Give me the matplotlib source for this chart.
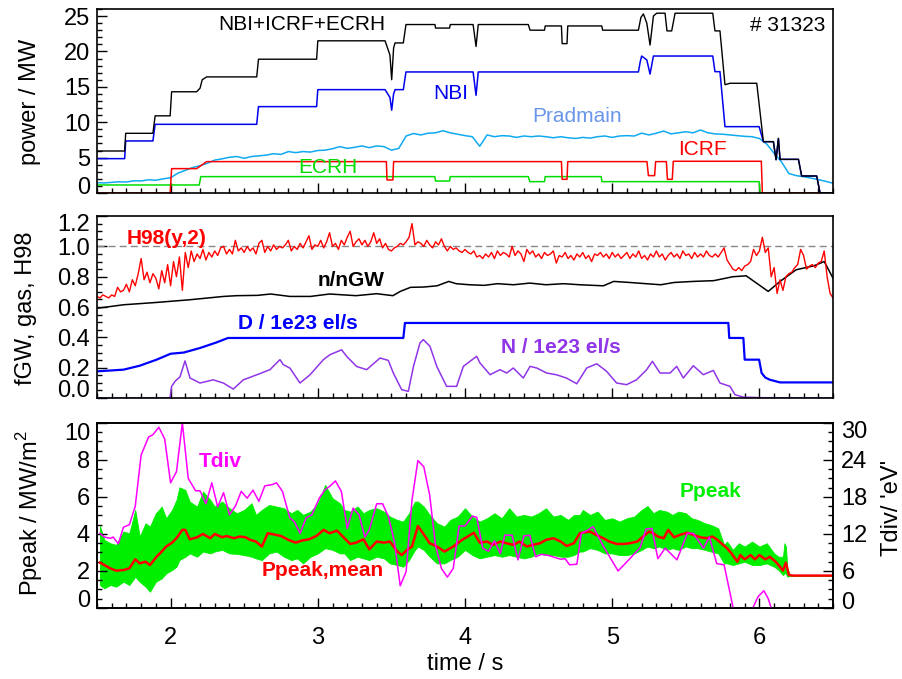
import matplotlib

matplotlib.use("Agg")
import matplotlib.pyplot as plt
import numpy as np
from matplotlib.ticker import MultipleLocator
from matplotlib.transforms import ScaledTranslation

plt.rcParams["font.family"] = ["Liberation Sans", "DejaVu Sans"]
plt.rcParams["mathtext.fontset"] = "custom"
plt.rcParams["mathtext.rm"] = "Liberation Sans"

# ---------------- panel 1: heating / radiated power (MW) ----------------
tot_t = [1.50, 1.688, 1.695, 1.880, 1.895, 1.997, 2.007, 2.177, 2.20, 2.215, 2.245, 2.585,
         2.597, 2.992, 3.0, 3.457, 3.49, 3.502, 3.515, 3.525, 3.581, 3.599, 3.796, 3.80,
         3.895, 3.90, 4.055, 4.075, 4.09, 4.43, 4.442, 4.54, 4.545, 4.655, 4.66, 4.693,
         4.698, 4.929, 4.935, 5.178, 5.195, 5.212, 5.235, 5.257, 5.28, 5.302, 5.359, 5.372,
         5.404, 5.427, 5.683, 5.698, 5.732, 5.766, 5.80, 5.982, 6.027, 6.095, 6.113, 6.129,
         6.14, 6.265, 6.287, 6.389, 6.412, 6.50]
tot_p = [5.93, 5.93, 8.43, 8.43, 10.9, 10.9, 14.3, 14.3, 14.8, 16.0, 16.4, 16.4,
         18.9, 18.9, 21.5, 21.5, 19.5, 16.0, 20.5, 21.2, 21.2, 23.8, 23.8, 23.3,
         23.3, 23.8, 23.8, 20.7, 23.8, 23.8, 23.0, 23.0, 23.6, 23.6, 21.1, 21.1,
         23.6, 23.6, 23.0, 23.0, 24.8, 25.3, 24.0, 20.9, 25.0, 25.4, 25.4, 22.9,
         22.9, 25.4, 25.4, 22.9, 22.9, 15.3, 15.5, 15.5, 7.25, 7.25, 4.7, 7.7,
         4.75, 4.75, 2.4, 2.4, 0.0, 0.0]

nbi_t = [1.50, 1.688, 1.695, 1.880, 1.895, 2.585, 2.597, 2.992, 3.0, 3.457, 3.49, 3.502,
         3.515, 3.525, 3.581, 3.599, 4.055, 4.075, 4.09, 5.178, 5.19, 5.20, 5.235, 5.257,
         5.28, 5.683, 5.698, 5.732, 5.766, 5.998, 6.027, 6.095, 6.113, 6.129, 6.14, 6.265,
         6.287, 6.389, 6.412, 6.50]
nbi_p = [4.85, 4.85, 7.35, 7.35, 9.7, 9.7, 12.2, 12.2, 14.6, 14.6, 13.5, 11.7,
         14.0, 14.6, 14.6, 17.1, 17.1, 13.8, 17.1, 17.1, 18.5, 19.35, 18.8, 16.8,
         19.35, 19.35, 17.14, 17.14, 9.37, 9.37, 7.25, 7.25, 4.7, 7.7, 4.75, 4.75,
         2.4, 2.4, 0.0, 0.0]

icrf_t = [1.50, 1.997, 2.007, 2.177, 2.245, 3.466, 3.470, 3.510, 3.515, 4.655, 4.660, 4.693,
          4.698, 5.236, 5.246, 5.288, 5.295, 5.368, 5.375, 5.408, 5.415, 6.013, 6.020, 6.50]
icrf_p = [0.0, 0.0, 3.44, 3.44, 4.43, 4.43, 1.84, 1.84, 4.43, 4.43, 1.93, 1.93,
          4.43, 4.43, 2.45, 2.45, 4.43, 4.43, 1.93, 1.93, 4.48, 4.48, 0.0, 0.0]

ecrh_t = [1.50, 2.195, 2.205, 3.795, 3.80, 3.895, 3.90, 4.43, 4.44, 4.54, 4.545, 4.925,
          4.93, 5.998, 6.005, 6.50]
ecrh_p = [1.13, 1.13, 2.31, 2.31, 1.69, 1.69, 2.31, 2.31, 1.6, 1.6, 2.31, 2.31,
          1.6, 1.6, 0.0, 0.0]

# Pradmain sampled every 50 ms from 1.5 s to 6.5 s
prad = [1.46, 1.42, 1.50, 1.58, 1.55, 1.72, 1.70, 1.86, 1.80, 2.00,
        2.15, 2.80, 3.20, 3.60, 3.85, 4.20, 4.65, 4.82, 5.05, 5.15,
        4.90, 5.15, 5.25, 5.35, 5.55, 5.45, 5.85, 5.70, 5.85, 5.78,
        6.00, 6.05, 6.25, 6.55, 6.30, 6.45, 6.65, 6.40, 6.65, 6.55,
        6.05, 6.30, 8.05, 8.40, 8.20, 8.45, 8.50, 8.80, 8.50, 8.30,
        8.10, 7.95, 6.60, 8.20, 7.95, 8.10, 8.05, 7.85, 8.05, 7.95,
        8.05, 7.95, 7.80, 7.95, 7.80, 7.70, 7.85, 7.75, 7.95, 8.05,
        7.85, 8.05, 8.10, 8.05, 8.45, 8.20, 8.45, 8.75, 8.35, 8.50,
        8.65, 8.50, 8.90, 8.50, 8.35, 8.30, 8.20, 8.10, 8.00, 7.95,
        7.70, 6.90, 5.60, 4.40, 2.75, 2.45, 2.30, 2.10, 1.90, 1.65,
        1.37]

# ---------------- panel 2: H98, Greenwald fraction, gas puffs ----------------
# H98(y,2) sampled every 20 ms from 1.5 s to 6.5 s
h98 = [0.67, 0.66, 0.68, 0.67, 0.66, 0.68, 0.67, 0.73, 0.70, 0.71,
       0.75, 0.70, 0.78, 0.74, 0.82, 0.92, 0.78, 0.83, 0.76, 0.82,
       0.79, 0.72, 0.84, 0.76, 0.88, 0.74, 0.90, 0.80, 0.93, 0.71,
       0.96, 0.86, 0.97, 0.90, 0.95, 0.92, 0.98, 0.91, 0.96, 0.93,
       0.97, 0.94, 0.99, 1.00, 0.95, 0.98, 0.95, 1.04, 0.97, 0.99,
       0.96, 1.00, 0.97, 0.99, 0.95, 1.02, 1.04, 0.96, 1.00, 0.97,
       1.01, 0.98, 1.00, 0.99, 1.01, 1.04, 0.97, 1.00, 0.98, 1.02,
       0.99, 1.03, 1.07, 0.98, 1.01, 1.00, 1.04, 0.99, 1.03, 1.09,
       1.00, 1.02, 0.98, 1.04, 1.01, 1.06, 1.10, 1.00, 1.03, 1.05,
       1.01, 1.04, 1.00, 1.03, 1.09, 1.02, 1.05, 0.99, 1.02, 0.98,
       0.97, 0.99, 1.00, 1.02, 1.01, 1.03, 1.06, 1.15, 1.01, 1.03,
       1.02, 1.00, 1.04, 1.01, 0.99, 1.03, 1.01, 1.05, 1.00, 0.97,
       1.00, 0.98, 0.99, 0.97, 0.96, 0.98, 0.96, 0.95, 0.97, 0.93,
       0.94, 0.92, 0.95, 0.93, 0.96, 0.92, 0.97, 0.94, 0.96, 0.95,
       0.93, 1.00, 0.94, 0.97, 0.95, 0.90, 0.98, 0.95, 0.97, 0.93,
       0.95, 0.92, 0.96, 0.94, 0.95, 0.97, 0.89, 0.94, 0.93, 0.96,
       0.92, 0.94, 0.91, 0.95, 0.93, 0.96, 0.92, 0.94, 0.90, 0.95,
       0.94, 0.96, 0.93, 0.95, 0.92, 0.96, 0.93, 0.95, 0.92, 0.94,
       0.96, 0.92, 0.95, 0.93, 0.97, 0.92, 0.94, 0.91, 0.95, 0.93,
       0.97, 0.93, 0.95, 0.91, 0.94, 0.96, 0.93, 0.95, 0.92, 0.97,
       0.94, 0.95, 0.92, 0.96, 0.93, 0.95, 0.93, 0.97, 0.94, 0.93,
       0.95, 0.93, 0.96, 0.99, 0.91, 0.88, 0.85, 0.84, 0.86, 0.84,
       0.87, 0.88, 0.90, 0.98, 0.94, 0.97, 1.06, 0.96, 0.99, 0.80,
       0.86, 0.69, 0.78, 0.71, 0.80, 0.82, 0.83, 0.86, 0.88, 0.98,
       0.94, 0.85, 0.87, 0.88, 0.86, 0.89, 0.90, 0.97, 0.80, 0.69,
       0.66]

ngw_t = [1.51, 1.68, 1.90, 2.13, 2.36, 2.45, 2.59, 2.68, 2.81, 2.95, 3.08, 3.26, 3.40,
         3.51, 3.56, 3.63, 3.72, 3.81, 3.89, 3.94, 4.03, 4.13, 4.22, 4.33, 4.44, 4.55,
         4.67, 4.78, 4.94, 5.01, 5.12, 5.23, 5.33, 5.42, 5.55, 5.69, 5.82, 5.91, 5.98,
         6.06, 6.14, 6.25, 6.37, 6.44, 6.47, 6.50]
ngw = [0.593, 0.615, 0.630, 0.648, 0.670, 0.675, 0.677, 0.686, 0.670, 0.670, 0.686, 0.675,
       0.688, 0.675, 0.703, 0.730, 0.732, 0.740, 0.769, 0.754, 0.747, 0.743, 0.754, 0.747,
       0.758, 0.747, 0.754, 0.747, 0.740, 0.769, 0.762, 0.754, 0.747, 0.762, 0.769, 0.774,
       0.800, 0.806, 0.758, 0.703, 0.769, 0.846, 0.872, 0.900, 0.846, 0.790]

gasd_t = [1.50, 1.68, 1.79, 1.905, 2.00, 2.09, 2.20, 2.31, 2.39, 3.581, 3.592, 5.789,
          5.795, 5.891, 5.90, 5.998, 6.015, 6.04, 6.07, 6.14, 6.50]
gasd = [0.176, 0.187, 0.213, 0.253, 0.292, 0.300, 0.330, 0.366, 0.396, 0.396, 0.495, 0.495,
        0.396, 0.396, 0.253, 0.253, 0.165, 0.135, 0.121, 0.103, 0.103]

gasn_t = [1.50, 1.996, 2.007, 2.03, 2.064, 2.098, 2.132, 2.20, 2.29, 2.358, 2.426, 2.494,
          2.585, 2.675, 2.743, 2.766, 2.811, 2.879, 2.947, 3.038, 3.083, 3.162, 3.196,
          3.264, 3.332, 3.423, 3.479, 3.513, 3.570, 3.615, 3.65, 3.694, 3.717, 3.762,
          3.808, 3.875, 3.943, 3.989, 4.079, 4.102, 4.17, 4.238, 4.283, 4.328, 4.396,
          4.442, 4.487, 4.555, 4.623, 4.691, 4.759, 4.827, 4.895, 4.962, 5.03, 5.098,
          5.166, 5.234, 5.273, 5.325, 5.393, 5.438, 5.483, 5.551, 5.619, 5.687, 5.732,
          5.80, 5.834, 5.891, 6.027, 6.50]
gasn = [0.0, 0.0, 0.077, 0.110, 0.140, 0.245, 0.132, 0.099, 0.120, 0.099, 0.059, 0.120,
        0.153, 0.187, 0.253, 0.220, 0.197, 0.099, 0.153, 0.253, 0.286, 0.318, 0.275,
        0.208, 0.187, 0.264, 0.248, 0.165, 0.055, 0.044, 0.209, 0.363, 0.385, 0.341,
        0.209, 0.077, 0.077, 0.209, 0.275, 0.231, 0.154, 0.187, 0.165, 0.198, 0.132,
        0.209, 0.198, 0.165, 0.153, 0.131, 0.094, 0.198, 0.226, 0.176, 0.099, 0.088,
        0.121, 0.187, 0.242, 0.165, 0.165, 0.209, 0.132, 0.213, 0.154, 0.182, 0.099,
        0.077, 0.022, 0.006, 0.002, 0.0]

# ---------------- panel 3: divertor peak power and temperature ----------------
pk_t = [1.52, 1.55, 1.59, 1.63, 1.68, 1.72, 1.76, 1.79, 1.83, 1.86, 1.90, 1.94, 1.97,
        2.01, 2.04, 2.06, 2.10, 2.13, 2.18, 2.22, 2.27, 2.30, 2.35, 2.40, 2.45, 2.50,
        2.55, 2.58, 2.62, 2.67, 2.72, 2.77, 2.82, 2.86, 2.90, 2.95, 3.00, 3.05, 3.10,
        3.15, 3.18, 3.22, 3.27, 3.31, 3.35, 3.40, 3.45, 3.49, 3.54, 3.58, 3.62, 3.66,
        3.68, 3.72, 3.76, 3.81, 3.86, 3.90, 3.95, 4.00, 4.05, 4.10, 4.15, 4.20, 4.25,
        4.30, 4.35, 4.40, 4.45, 4.50, 4.55, 4.60, 4.65, 4.70, 4.74, 4.78, 4.80, 4.85,
        4.90, 4.95, 5.00, 5.05, 5.10, 5.15, 5.20, 5.24, 5.28, 5.32, 5.37, 5.41, 5.45,
        5.50, 5.54, 5.58, 5.63, 5.67, 5.72, 5.76, 5.78, 5.82, 5.86, 5.90, 5.95, 6.00,
        6.05, 6.10, 6.13, 6.16, 6.17, 6.18, 6.19, 6.21, 6.50]
pk_hi = [4.43, 3.68, 3.50, 3.41, 4.13, 4.04, 5.30, 3.86, 4.58, 4.40, 5.12, 5.48, 4.85,
         5.30, 5.84, 6.52, 6.38, 5.75, 5.48, 6.29, 5.84, 5.48, 5.75, 5.39, 5.12, 5.30,
         5.66, 5.03, 5.30, 5.57, 5.48, 5.39, 5.12, 5.30, 5.03, 5.21, 5.66, 6.65, 5.93,
         5.66, 5.30, 5.21, 5.48, 5.12, 5.30, 5.39, 5.21, 4.94, 4.76, 4.67, 5.12, 5.75,
         5.75, 5.48, 5.03, 4.58, 4.40, 4.76, 4.94, 5.39, 4.94, 4.67, 4.85, 5.12, 4.85,
         5.39, 4.94, 5.03, 4.94, 5.12, 5.39, 4.94, 5.03, 4.76, 5.03, 5.03, 5.30, 5.03,
         5.21, 4.76, 4.85, 4.67, 4.85, 4.94, 5.30, 5.51, 5.12, 5.30, 5.21, 5.03, 5.21,
         5.12, 4.85, 4.76, 4.58, 4.49, 4.31, 3.41, 3.59, 3.14, 3.50, 3.32, 3.59, 3.32,
         3.50, 2.95, 2.77, 2.77, 3.50, 3.32, 2.14, 1.75, 1.75]
pk_lo = [1.24, 1.06, 1.24, 1.15, 1.42, 1.24, 1.69, 1.42, 1.15, 0.88, 1.42, 1.60, 1.87,
         2.05, 2.23, 2.59, 2.77, 2.95, 2.77, 3.05, 2.95, 3.05, 3.14, 2.95, 2.92, 2.86,
         2.77, 2.68, 2.59, 2.95, 3.05, 2.77, 2.59, 2.68, 2.41, 2.77, 2.95, 3.23, 3.14,
         2.95, 2.95, 2.59, 2.77, 2.68, 2.59, 2.77, 2.68, 2.41, 2.32, 2.23, 2.59, 3.14,
         3.32, 3.14, 2.77, 2.41, 2.41, 2.59, 2.77, 3.14, 2.86, 2.68, 2.77, 2.86, 2.77,
         2.86, 2.77, 2.68, 2.77, 2.95, 2.86, 2.86, 2.77, 2.77, 2.86, 3.05, 3.05, 3.23,
         3.14, 2.95, 2.95, 2.86, 2.86, 2.95, 3.14, 3.32, 3.23, 3.32, 3.14, 3.23, 3.14,
         3.32, 3.23, 3.23, 3.14, 3.05, 2.95, 2.41, 2.41, 2.32, 2.41, 2.50, 2.32, 2.32,
         2.41, 2.23, 2.05, 1.78, 1.87, 1.87, 1.69, 1.75, 1.75]

pm_t = [1.52, 1.55, 1.59, 1.63, 1.68, 1.72, 1.76, 1.79, 1.83, 1.86, 1.905, 1.94, 1.97,
        2.01, 2.04, 2.08, 2.10, 2.13, 2.18, 2.22, 2.27, 2.30, 2.35, 2.38, 2.43, 2.47,
        2.51, 2.54, 2.58, 2.62, 2.66, 2.71, 2.75, 2.80, 2.85, 2.89, 2.94, 2.99, 3.04,
        3.08, 3.13, 3.17, 3.22, 3.26, 3.31, 3.35, 3.40, 3.45, 3.49, 3.54, 3.57, 3.60,
        3.64, 3.68, 3.73, 3.76, 3.81, 3.86, 3.92, 3.98, 4.01, 4.06, 4.10, 4.15, 4.19,
        4.24, 4.28, 4.33, 4.37, 4.42, 4.46, 4.51, 4.55, 4.60, 4.65, 4.69, 4.74, 4.78,
        4.80, 4.85, 4.89, 4.94, 4.98, 5.03, 5.08, 5.12, 5.17, 5.21, 5.25, 5.28, 5.31,
        5.35, 5.38, 5.42, 5.46, 5.51, 5.55, 5.60, 5.64, 5.68, 5.71, 5.74, 5.78, 5.81,
        5.85, 5.87, 5.90, 5.94, 5.97, 6.00, 6.04, 6.07, 6.11, 6.13, 6.16, 6.18, 6.20,
        6.23, 6.50]
pm = [2.45, 2.32, 2.14, 2.02, 2.05, 2.14, 2.63, 2.41, 2.50, 2.32, 2.77, 3.05, 3.32,
      3.53, 3.77, 4.22, 4.22, 3.71, 3.82, 4.00, 3.77, 4.00, 3.82, 3.89, 3.77, 3.86,
      3.82, 3.68, 3.59, 3.32, 4.04, 3.96, 3.89, 3.68, 3.53, 3.64, 3.71, 3.89, 4.22,
      4.04, 4.18, 3.86, 3.46, 3.53, 3.71, 3.17, 3.59, 3.53, 3.59, 3.05, 2.86, 3.10,
      3.32, 4.43, 3.86, 3.50, 3.32, 3.05, 3.32, 3.68, 3.82, 4.07, 3.53, 3.59, 3.41,
      3.59, 3.50, 3.41, 3.59, 3.32, 3.41, 3.50, 3.68, 3.77, 3.59, 3.35, 3.50, 4.04,
      4.07, 4.13, 3.95, 3.77, 3.59, 3.46, 3.46, 3.50, 3.59, 3.86, 4.13, 4.04, 3.86,
      3.77, 4.22, 3.82, 3.95, 4.07, 3.95, 3.82, 3.77, 3.86, 3.71, 3.50, 3.23, 2.95,
      2.50, 2.86, 2.63, 2.86, 2.63, 2.86, 2.63, 2.77, 2.50, 2.32, 2.02, 2.45, 1.78,
      1.75, 1.75]

tdiv_t = [1.52, 1.55, 1.59, 1.61, 1.645, 1.68, 1.72, 1.76, 1.80, 1.85, 1.88, 1.92, 1.96,
          2.00, 2.04, 2.08, 2.12, 2.17, 2.20, 2.24, 2.28, 2.32, 2.36, 2.40, 2.44, 2.48,
          2.52, 2.56, 2.60, 2.64, 2.69, 2.72, 2.76, 2.81, 2.84, 2.88, 2.92, 2.96, 3.01,
          3.05, 3.08, 3.12, 3.16, 3.20, 3.24, 3.28, 3.32, 3.35, 3.40, 3.44, 3.48, 3.52,
          3.56, 3.60, 3.64, 3.68, 3.72, 3.76, 3.80, 3.84, 3.88, 3.92, 3.96, 4.00, 4.05,
          4.08, 4.12, 4.16, 4.20, 4.24, 4.27, 4.32, 4.36, 4.40, 4.44, 4.48, 4.52, 4.57,
          4.61, 4.65, 4.68, 4.71, 4.76, 4.79, 4.84, 4.87, 4.94, 5.04, 5.12, 5.19, 5.23,
          5.27, 5.31, 5.36, 5.44, 5.51, 5.55, 5.62, 5.66, 5.71, 5.76, 5.82, 5.86, 5.92,
          5.955, 5.99, 6.03, 6.06, 6.08, 6.12, 6.50]
tdiv = [12.1, 11.5, 11.3, 11.5, 10.4, 13.1, 13.5, 16.5, 24.8, 27.7, 28.1, 29.3, 27.4,
        20.3, 22.1, 30.0, 21.0, 19.0, 19.0, 16.9, 20.3, 16.4, 18.7, 15.1, 16.5, 18.9,
        17.8, 19.1, 17.3, 19.8, 20.0, 20.3, 18.9, 14.6, 14.0, 12.1, 14.6, 15.1, 17.8,
        19.2, 19.7, 20.6, 18.9, 12.9, 16.2, 15.1, 11.5, 12.7, 16.9, 16.9, 14.8, 10.8,
        3.6, 5.9, 17.5, 23.9, 22.9, 18.3, 10.1, 6.4, 5.0, 6.4, 13.3, 13.3, 14.9,
        14.7, 9.7, 9.2, 10.9, 8.8, 11.8, 11.8, 7.8, 11.7, 11.8, 8.3, 8.7, 8.5,
        8.2, 7.9, 8.0, 7.0, 7.1, 12.1, 12.7, 13.2, 10.0, 6.0, 8.0, 9.8, 12.8,
        12.9, 8.0, 9.7, 7.8, 12.1, 12.1, 9.7, 11.5, 7.2, 7.0, 0.2, -3.0, -3.0,
        0.0, 1.8, 2.8, 1.5, 0.0, -3.0, -3.0]

FS_TICK = 17
FS_TXT = 15


def style(ax, yticks, yminor):
    ax.set_xlim(1.5, 6.5)
    ax.xaxis.set_major_locator(MultipleLocator(1))
    ax.xaxis.set_minor_locator(MultipleLocator(0.1))
    ax.set_yticks(yticks)
    ax.yaxis.set_minor_locator(MultipleLocator(yminor))
    ax.tick_params(which="both", direction="in", top=False, right=False,
                   labelsize=FS_TICK, width=1.0)
    ax.tick_params(which="major", length=7, pad=5)
    ax.tick_params(which="minor", length=3.5)
    for s in ax.spines.values():
        s.set_linewidth(1.2)


def nudge(label, dy_px):
    # shift a tick label vertically by a number of pixels (positive = up)
    label.set_transform(label.get_transform()
                        + ScaledTranslation(0, dy_px / 100.0, fig.dpi_scale_trans))


fig = plt.figure(figsize=(9.03, 6.79), dpi=100)
ax1 = fig.add_axes([0.1074, 0.7158, 0.8151, 0.2710])
ax2 = fig.add_axes([0.1074, 0.4138, 0.8151, 0.2680])
ax3 = fig.add_axes([0.1074, 0.1046, 0.8151, 0.2725])
ax3r = ax3.twinx()

# panel 1
ax1.plot(np.linspace(1.5, 6.5, len(prad)), prad, color="#10aaf0", lw=1.1)
ax1.plot(ecrh_t, ecrh_p, color="#00dd00", lw=1.1)
ax1.plot(icrf_t, icrf_p, color="#ff0000", lw=1.1)
ax1.plot(nbi_t, nbi_p, color="#0000ee", lw=1.1)
ax1.plot(tot_t, tot_p, color="black", lw=1.0)
ax1.set_ylim(0, 26)
style(ax1, [0, 5, 10, 15, 20, 25], 1)
ax1.tick_params(labelbottom=False)
ax1.text(0.2785, 0.913, "NBI+ICRF+ECRH", transform=ax1.transAxes, ha="center", va="center",
         fontsize=FS_TXT, color="black")
ax1.text(0.989, 0.908, "# 31323", transform=ax1.transAxes, ha="right", va="center",
         fontsize=FS_TXT, color="black")
ax1.text(0.480, 0.543, "NBI", transform=ax1.transAxes, ha="center", va="center",
         fontsize=FS_TXT, color="#0000ee")
ax1.text(0.652, 0.413, "Pradmain", transform=ax1.transAxes, ha="center", va="center",
         fontsize=FS_TXT, color="#6a96ea")
ax1.text(0.823, 0.234, "ICRF", transform=ax1.transAxes, ha="center", va="center",
         fontsize=FS_TXT, color="#ff0000")
ax1.text(0.314, 0.136, "ECRH", transform=ax1.transAxes, ha="center", va="center",
         fontsize=FS_TXT, color="#00dd00")

# panel 2
ax2.axhline(1.0, color="#888888", lw=1.0, ls=(0, (5, 3)))
ax2.plot(gasn_t, gasn, color="#9035e8", lw=1.1)
ax2.plot(gasd_t, gasd, color="#0000ff", lw=1.6)
ax2.plot(ngw_t, ngw, color="black", lw=1.1)
ax2.plot(np.linspace(1.5, 6.5, len(h98)), h98, color="#ff0000", lw=1.0)
ax2.set_ylim(0, 1.2)
style(ax2, [0.0, 0.2, 0.4, 0.6, 0.8, 1.0, 1.2], 0.05)
ax2.set_yticklabels(["0.0", "0.2", "0.4", "0.6", "0.8", "1.0", "1.2"])
ax2.tick_params(labelbottom=False)
ax2.text(0.095, 0.879, "H98(y,2)", transform=ax2.transAxes, ha="center", va="center",
         fontsize=FS_TXT, fontweight="bold", color="#ff0000")
ax2.text(0.345, 0.648, "n/nGW", transform=ax2.transAxes, ha="center", va="center",
         fontsize=FS_TXT, fontweight="bold", color="black")
ax2.text(0.273, 0.412, "D / 1e23 el/s", transform=ax2.transAxes, ha="center", va="center",
         fontsize=FS_TXT, fontweight="bold", color="#0000ff")
ax2.text(0.630, 0.280, "N / 1e23 el/s", transform=ax2.transAxes, ha="center", va="center",
         fontsize=FS_TXT, fontweight="bold", color="#9035e8")

# panel 3
ax3.fill_between(pk_t, pk_lo, pk_hi, color="#00ee00", lw=0.6, edgecolor="#00ee00")
ax3.plot(pm_t, pm, color="#ff0000", lw=1.8)
ax3.set_ylim(0, 10)
style(ax3, [0, 2, 4, 6, 8, 10], 0.5)
ax3.tick_params(axis="x", pad=14)
ax3r.plot(tdiv_t, tdiv, color="#ff00ff", lw=1.1)
ax3r.set_ylim(0, 30)
ax3r.set_yticks([0, 6, 12, 18, 24, 30])
ax3r.yaxis.set_minor_locator(MultipleLocator(1.5))
ax3r.tick_params(which="both", direction="in", right=True, labelsize=FS_TICK, width=1.0)
ax3r.tick_params(which="major", length=7, pad=6)
ax3r.tick_params(which="minor", length=3.5)
for s in ax3r.spines.values():
    s.set_linewidth(1.2)
ax3.text(0.167, 0.789, "Tdiv", transform=ax3.transAxes, ha="center", va="center",
         fontsize=FS_TXT, fontweight="bold", color="#ff00ff")
ax3.text(0.307, 0.205, "Ppeak,mean", transform=ax3.transAxes, ha="center", va="center",
         fontsize=FS_TXT, fontweight="bold", color="#ff0000")
ax3.text(0.834, 0.632, "Ppeak", transform=ax3.transAxes, ha="center", va="center",
         fontsize=FS_TXT, fontweight="bold", color="#00ee00")

# first / last tick labels pushed inside the panel, as in the original
nudge(ax1.yaxis.get_major_ticks()[0].label1, 7)
nudge(ax2.yaxis.get_major_ticks()[0].label1, 10)
nudge(ax2.yaxis.get_major_ticks()[-1].label1, -6)
nudge(ax3.yaxis.get_major_ticks()[0].label1, 9)
nudge(ax3.yaxis.get_major_ticks()[-1].label1, -9)
nudge(ax3r.yaxis.get_major_ticks()[0].label2, 7)
nudge(ax3r.yaxis.get_major_ticks()[-1].label2, -7)

# axis titles
W, H = 903.0, 679.0
fig.text(30 / W, 1 - 102 / H, "power / MW", rotation=90, ha="center", va="center",
         fontsize=FS_TICK)
fig.text(26 / W, 1 - 308 / H, "fGW, gas, H98", rotation=90, ha="center", va="center",
         fontsize=FS_TICK)
fig.text(30 / W, 1 - 513 / H, "Ppeak / MW/m$^2$", rotation=90, ha="center", va="center",
         fontsize=FS_TICK)
fig.text(892 / W, 1 - 508 / H, "Tdiv/ 'eV'", rotation=90, ha="center", va="center",
         fontsize=FS_TICK)
fig.text(465 / W, 1 - 664 / H, "time / s", ha="center", va="center", fontsize=FS_TICK)

fig.savefig("out.png", dpi=100)
